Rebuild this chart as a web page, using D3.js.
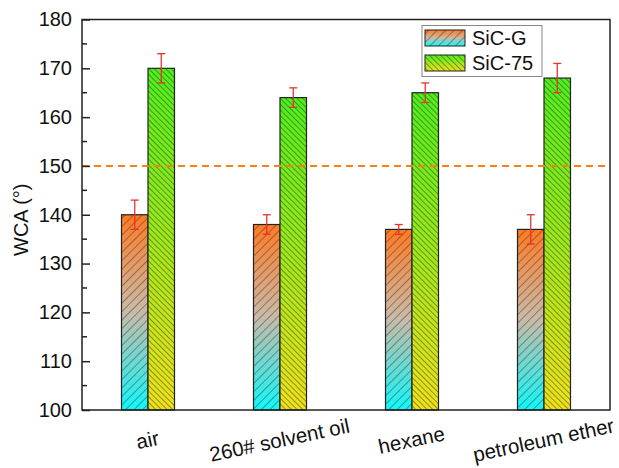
<!DOCTYPE html>
<html>
<head>
<meta charset="utf-8">
<script src="https://cdn.jsdelivr.net/npm/d3@7"></script>
<style>
  body { margin: 0; background: #fff; }
  svg { display: block; font-family: "Liberation Sans", Arial, sans-serif; }
</style>
</head>
<body>
<svg id="chart" width="619" height="468"></svg>
<script>
const categories = ["air", "260# solvent oil", "hexane", "petroleum ether"];
const seriesNames = ["SiC-G", "SiC-75"];
const sicG = [140, 138, 137, 137];
const sicGErr = [3, 2, 1, 3];
const sic75 = [170, 164, 165, 168];
const sic75Err = [3, 2, 2, 3];
const yTicks = [100, 110, 120, 130, 140, 150, 160, 170, 180];
const refLine = 150;

const svg = d3.select("#chart");
const m = { left: 82, right: 610, top: 19.5, bottom: 410 };

const x = d3.scaleBand().domain(categories).range([m.left, m.right]).paddingInner(0).paddingOuter(0);
const inner = d3.scaleBand().domain(seriesNames).range([0, 53]);
const y = d3.scaleLinear().domain([100, 180]).range([m.bottom, m.top]);

const defs = svg.append("defs");
const gG = defs.append("linearGradient").attr("id", "gradG").attr("x1", 0).attr("y1", 0).attr("x2", 0).attr("y2", 1);
gG.append("stop").attr("offset", "0%").attr("stop-color", "#ff7a22");
gG.append("stop").attr("offset", "50%").attr("stop-color", "#c9bba9");
gG.append("stop").attr("offset", "100%").attr("stop-color", "#10f8fa");
const g75 = defs.append("linearGradient").attr("id", "grad75").attr("x1", 0).attr("y1", 0).attr("x2", 0).attr("y2", 1);
g75.append("stop").attr("offset", "0%").attr("stop-color", "#50ee20");
g75.append("stop").attr("offset", "100%").attr("stop-color", "#f2e01e");

const pG = defs.append("pattern").attr("id", "hatchG").attr("patternUnits", "userSpaceOnUse")
  .attr("width", 6).attr("height", 6).attr("patternTransform", "rotate(45)");
pG.append("line").attr("x1", 0).attr("y1", 0).attr("x2", 0).attr("y2", 6)
  .attr("stroke", "#2a2a2a").attr("stroke-width", 1).attr("stroke-opacity", 0.85);
const p75 = defs.append("pattern").attr("id", "hatch75").attr("patternUnits", "userSpaceOnUse")
  .attr("width", 4).attr("height", 4).attr("patternTransform", "rotate(-45)");
p75.append("line").attr("x1", 0).attr("y1", 0).attr("x2", 0).attr("y2", 4)
  .attr("stroke", "#1a3a00").attr("stroke-width", 1.1).attr("stroke-opacity", 0.85);

const series = [
  { name: "SiC-G", values: sicG, err: sicGErr, grad: "url(#gradG)", hatch: "url(#hatchG)" },
  { name: "SiC-75", values: sic75, err: sic75Err, grad: "url(#grad75)", hatch: "url(#hatch75)" }
];

const bw = inner.bandwidth();
series.forEach(s => {
  const g = svg.append("g");
  categories.forEach((c, i) => {
    const bx = x(c) + x.bandwidth() / 2 - 26.5 + inner(s.name);
    const by = y(s.values[i]);
    const bh = y(100) - by;
    g.append("rect").attr("x", bx).attr("y", by).attr("width", bw).attr("height", bh).attr("fill", s.grad);
    g.append("rect").attr("x", bx).attr("y", by).attr("width", bw).attr("height", bh)
      .attr("fill", s.hatch).attr("stroke", "#222").attr("stroke-width", 1.2);
  });
});

// reference dashed line
svg.append("line").attr("x1", m.left).attr("x2", m.right).attr("y1", y(refLine)).attr("y2", y(refLine))
  .attr("stroke", "#ff7f0e").attr("stroke-width", 2).attr("stroke-dasharray", "7,5");

// error bars
series.forEach(s => {
  categories.forEach((c, i) => {
    const cx = x(c) + x.bandwidth() / 2 - 26.5 + inner(s.name) + bw / 2;
    const top = y(s.values[i] + s.err[i]);
    const bot = y(s.values[i] - s.err[i]);
    const e = svg.append("g").attr("stroke", "#e8322f").attr("stroke-width", 1.3);
    e.append("line").attr("x1", cx).attr("x2", cx).attr("y1", top).attr("y2", bot);
    e.append("line").attr("x1", cx - 4).attr("x2", cx + 4).attr("y1", top).attr("y2", top);
    e.append("line").attr("x1", cx - 4).attr("x2", cx + 4).attr("y1", bot).attr("y2", bot);
  });
});

// frame
svg.append("rect").attr("x", m.left).attr("y", m.top).attr("width", m.right - m.left).attr("height", m.bottom - m.top)
  .attr("fill", "none").attr("stroke", "#222").attr("stroke-width", 1.5);

// y axis ticks inward
const yAxis = d3.axisLeft(y).tickValues(yTicks).tickSize(-8).tickPadding(10).tickFormat(d3.format("d"));
const ya = svg.append("g").attr("transform", `translate(${m.left},0)`).call(yAxis);
ya.select(".domain").remove();
ya.selectAll(".tick line").attr("stroke", "#222").attr("stroke-width", 1.5);
ya.selectAll(".tick text").attr("font-size", 20).attr("fill", "#111").attr("font-family", "Liberation Sans, Arial, sans-serif").attr("x", -10);
const minor = d3.range(105, 180, 10);
svg.append("g").selectAll("line").data(minor).join("line")
  .attr("x1", m.left).attr("x2", m.left + 5).attr("y1", d => y(d)).attr("y2", d => y(d))
  .attr("stroke", "#222").attr("stroke-width", 1.5);

// y label
svg.append("text").attr("transform", `translate(28,${(m.top + m.bottom) / 2 + 5}) rotate(-90)`)
  .attr("text-anchor", "middle").attr("font-size", 20).attr("fill", "#111").text("WCA (°)");

// x labels rotated
svg.append("g").selectAll("text").data(categories).join("text")
  .attr("transform", d => `translate(${x(d) + x.bandwidth() / 2 + 1},${447}) rotate(-12)`)
  .attr("text-anchor", "middle").attr("font-size", 20.5).attr("fill", "#111").text(d => d);

// legend
const lg = svg.append("g");
lg.append("rect").attr("x", 422).attr("y", 25.5).attr("width", 120).attr("height", 51)
  .attr("fill", "#fff").attr("stroke", "#888").attr("stroke-width", 1);
series.forEach((s, i) => {
  const ly = 30 + i * 25;
  lg.append("rect").attr("x", 425).attr("y", ly).attr("width", 40).attr("height", 16).attr("fill", s.grad);
  lg.append("rect").attr("x", 425).attr("y", ly).attr("width", 40).attr("height", 16)
    .attr("fill", s.hatch).attr("stroke", "#222").attr("stroke-width", 1);
  lg.append("text").attr("x", 472).attr("y", ly + 15).attr("font-size", 20).attr("fill", "#111").text(s.name);
});
</script>
</body>
</html>
